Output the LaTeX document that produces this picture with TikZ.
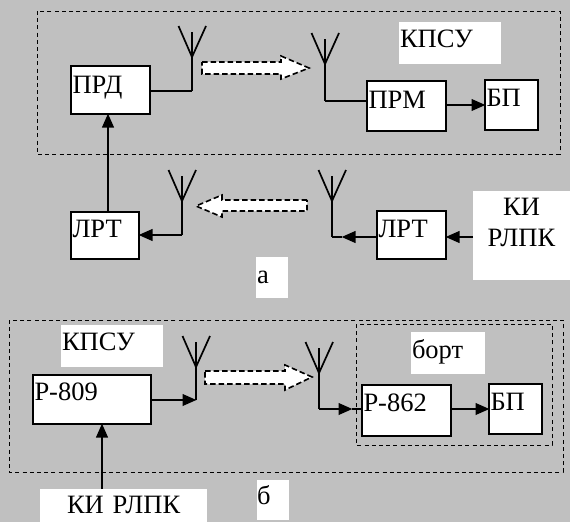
\documentclass[tikz,border=0pt]{standalone}
\usepackage{fontspec}
\setmainfont{Liberation Serif}
\usetikzlibrary{arrows.meta}
\definecolor{bg}{HTML}{C0C0C0}
\tikzset{
  x=1pt,y=-1pt,
  boxed/.style={draw=black,line width=1.8pt,fill=white},
  plain/.style={fill=white},
  frame/.style={draw=black,line width=1pt,dash pattern=on 4pt off 3.2pt},
  wave/.style={draw=black,fill=white,line width=1.6pt,dash pattern=on 5.5pt off 3pt},
  wire/.style={line width=1.5pt},
  thickwire/.style={line width=2.4pt},
  aerial/.style={line width=1.7pt},
  flow/.style={line width=2.4pt,-{Triangle[length=14pt,width=11.5pt]},shorten >=-0.5pt}
}
% name, x0, y0, x1, y1, baseline, left pad, style, text
\newcommand{\blk}[9]{%
  \pgfmathsetlengthmacro{\blkw}{(#4)-(#2)-2*(#7)}%
  \pgfmathsetlengthmacro{\blkh}{(#6)-(#3)}%
  \pgfmathsetlengthmacro{\blkd}{(#5)-(#6)}%
  \node[#8,anchor=north west,inner ysep=0pt,inner xsep=#7 pt,outer sep=0pt,
    text width=\blkw,text height=\blkh,text depth=\blkd,font=\fontsize{26.5}{31}\selectfont]
    (#1) at (#2,#3) {#9};}
% name, x, apex y, bottom y
\newcommand{\aer}[4]{%
  \coordinate (#1) at (#2,#4);
  \draw[aerial] (#2-13.5,#3-31) -- (#2,#3) -- (#2+14,#3-31);
  \draw[aerial] (#2,#3-25) -- (#1);}
\begin{document}
\begin{tikzpicture}
\useasboundingbox (0,0) rectangle (570,522);
\fill[bg] (0,0) rectangle (570,522);

% --- part a ---
\draw[frame] (37,11) rectangle (560,154);
\blk{kpsuA}{399}{22}{501}{64}{47}{1}{plain}{КПСУ}
\blk{prd}{71}{66}{150}{114}{93}{1.5}{boxed}{ПРД}
\blk{prm}{367}{81}{446}{131}{108}{1.5}{boxed}{ПРМ}
\blk{bpA}{485}{80}{538}{130}{106}{1.5}{boxed}{БП}
\blk{lrtL}{71}{212}{139}{259}{237}{1.5}{boxed}{ЛРТ}
\blk{lrtR}{377}{211}{446}{259}{237}{1.5}{boxed}{ЛРТ}
\blk{kiA}{473}{191}{570}{280}{215}{0}{plain,align=center}{КИ\\РЛПК}
\blk{labA}{256}{257}{288}{298}{283}{1}{plain}{а}

\aer{antA}{192}{57}{91}
\aer{antB}{325}{64}{101}
\aer{antC}{182}{201}{235}
\aer{antD}{332}{201}{237}

\coordinate (rowA) at (0,105);
\coordinate (colA) at (108,0);
\coordinate (rowB) at (0,237);
\coordinate (tipD) at (342,237);
\coordinate (thickC) at (168,235);

\draw[wire] (prd.east|-antA) -- (antA);
\draw[wire] (antB) -- (prm.west|-antB);
\draw[flow] (prm.east|-rowA) -- (bpA.west|-rowA);
\draw[flow] (colA|-lrtL.north) -- (colA|-prd.south);
\draw[wire] (antC) -- (thickC);
\draw[flow] (thickC) -- (lrtL.east|-antC);
\draw[flow] (lrtR.west|-antD) -- (tipD);
\draw[thickwire] (tipD) -- (antD);
\draw[flow] (kiA.west|-rowB) -- (lrtR.east|-rowB);

\draw[wave] (202,62) -- (281,62) -- (281,56) -- (309,68) -- (281,79) -- (281,74) -- (202,74) -- cycle;
\draw[wave] (307,200) -- (222,200) -- (222,195) -- (196,206) -- (222,217) -- (222,211) -- (307,211) -- cycle;

% --- part b ---
\draw[frame] (9,320) rectangle (563,472);
\draw[frame] (356,324) rectangle (552,445);
\blk{kpsuB}{61}{325}{163}{367}{350}{1}{plain}{КПСУ}
\blk{bort}{411}{332}{485}{374}{358}{1}{plain}{борт}
\blk{r809}{33}{375}{151}{424}{400}{1.5}{boxed}{Р-809}
\blk{r862}{362}{385}{451}{436}{411}{1.5}{boxed}{Р-862}
\blk{bpB}{489}{384}{542}{434}{410}{1.5}{boxed}{БП}
\blk{kiB}{40}{489}{207}{522}{513}{10}{plain}{\hspace*{17pt}\mbox{КИ РЛПК}}
\blk{labB}{257}{480}{289}{520}{504}{0}{plain}{б}

\aer{antE}{196}{367}{400}
\aer{antF}{319}{373}{409}

\coordinate (rowC) at (0,409);
\coordinate (colB) at (102,0);
\coordinate (tipF) at (352,409);

\draw[flow] (r809.east|-antE) -- (antE);
\draw[flow] (antF) -- (tipF);
\draw[wire] (tipF) -- (r862.west|-antF);
\draw[flow] (r862.east|-rowC) -- (bpB.west|-rowC);
\draw[flow] (colB|-kiB.north) -- (colB|-r809.south);

\draw[wave] (205,371) -- (285,371) -- (285,365) -- (312,377) -- (285,390) -- (285,384) -- (205,384) -- cycle;
\end{tikzpicture}
\end{document}
